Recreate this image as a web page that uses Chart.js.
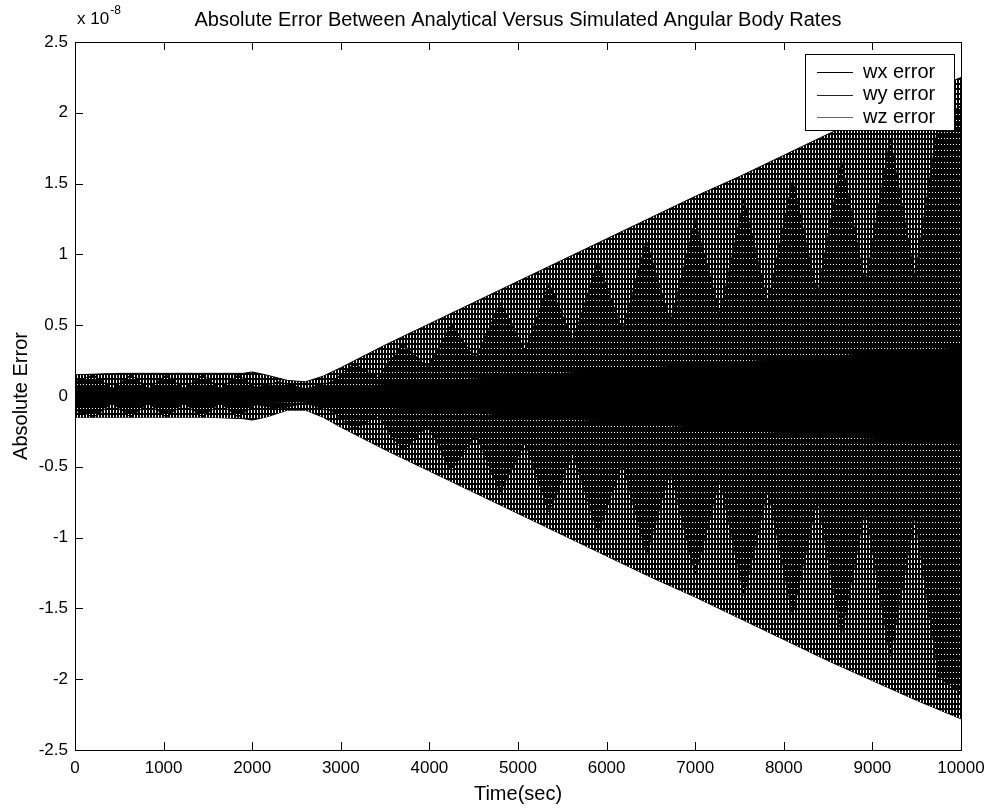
<!DOCTYPE html>
<html>
<head>
<meta charset="utf-8">
<title>Absolute Error Between Analytical Versus Simulated Angular Body Rates</title>
<script src="https://cdn.jsdelivr.net/npm/chart.js@4.4.1/dist/chart.umd.min.js"></script>
<style>
  html, body { margin: 0; padding: 0; background: #fff; }
  #wrap { width: 994px; height: 808px; }
</style>
</head>
<body>
<div id="wrap"><canvas id="chart" width="994" height="808"></canvas></div>
<script>
// Envelopes of the three error traces (units of 1e-8).
// The traces oscillate far too fast to resolve, so each one is drawn as the
// band between its upper and lower envelope.
var wxTime  = [0, 500, 1000, 1500, 1900, 2000, 2150, 2400, 2600, 2800, 3000, 3500, 4000, 4500, 5000, 5500, 6000, 6500, 7000, 7500, 8000, 8500, 9000, 9500, 10000];
var wxUpper = [0.15, 0.16, 0.16, 0.16, 0.16, 0.17, 0.15, 0.11, 0.10, 0.14, 0.20, 0.36, 0.51, 0.66, 0.81, 0.96, 1.11, 1.26, 1.41, 1.55, 1.70, 1.85, 1.99, 2.12, 2.25];
var wxLower = [-0.15, -0.15, -0.15, -0.15, -0.16, -0.17, -0.15, -0.10, -0.10, -0.15, -0.22, -0.38, -0.53, -0.68, -0.83, -0.98, -1.13, -1.28, -1.42, -1.57, -1.72, -1.87, -2.01, -2.15, -2.28];

var wyTime  = [0, 210, 420, 630, 830, 1030, 1230, 1440, 1640, 1840, 2040, 2300, 2600, 2900, 3150, 3420, 3700, 3980, 4250, 4520, 4800, 5080, 5350, 5620, 5900, 6180, 6450, 6720, 7000, 7280, 7550, 7820, 8100, 8380, 8650, 8920, 9200, 9480, 9750, 10000];
var wyUpper = [0.10, 0.15, 0.05, 0.15, 0.05, 0.15, 0.05, 0.15, 0.05, 0.15, 0.06, 0.10, 0.05, 0.10, 0.23, 0.13, 0.37, 0.20, 0.51, 0.26, 0.66, 0.32, 0.80, 0.39, 0.95, 0.46, 1.10, 0.52, 1.24, 0.58, 1.39, 0.65, 1.53, 0.71, 1.67, 0.78, 1.82, 0.84, 1.96, 2.05];
var wyLower = [-0.10, -0.15, -0.05, -0.15, -0.05, -0.15, -0.05, -0.15, -0.05, -0.15, -0.06, -0.09, -0.05, -0.11, -0.24, -0.14, -0.39, -0.21, -0.53, -0.27, -0.68, -0.33, -0.82, -0.40, -0.97, -0.47, -1.12, -0.53, -1.26, -0.59, -1.41, -0.66, -1.55, -0.72, -1.69, -0.79, -1.84, -0.85, -1.99, -2.10];

var wzTime  = [0, 2000, 2500, 3000, 4000, 5000, 6000, 7000, 8000, 9000, 10000];
var wzUpper = [0.05, 0.05, 0.04, 0.06, 0.10, 0.14, 0.18, 0.22, 0.26, 0.30, 0.34];
var wzLower = [-0.05, -0.05, -0.04, -0.06, -0.10, -0.14, -0.18, -0.22, -0.26, -0.30, -0.34];

var seriesNames = ['wx error', 'wy error', 'wz error'];
var seriesColors = ['#000000', '#222222', '#666666'];
var xTicks = [0, 1000, 2000, 3000, 4000, 5000, 6000, 7000, 8000, 9000, 10000];
var yTicks = [-2.5, -2, -1.5, -1, -0.5, 0, 0.5, 1, 1.5, 2, 2.5];

var FONT = '"Liberation Sans", Arial, Helvetica, sans-serif';
Chart.defaults.font.family = FONT;
Chart.defaults.color = '#000';

function pts(t, v) {
  return t.map(function (x, i) { return { x: x, y: v[i] }; });
}

// vertical hatching that stands in for the unresolved oscillation
function hatch(w, h, gaps) {
  var c = document.createElement('canvas');
  c.width = w; c.height = h;
  var g = c.getContext('2d');
  g.fillStyle = '#000';
  g.fillRect(0, 0, w, h);
  g.fillStyle = '#fff';
  gaps.forEach(function (r) { g.fillRect(r[0], r[1], r[2], r[3]); });
  return g.createPattern(c, 'repeat');
}
var sparse = hatch(3, 5, [[2, 0, 1, 3]]);
var dense = hatch(3, 6, [[2, 0, 1, 1]]);

function band(up, lo, idx, fillStyle) {
  return [
    { data: up, fill: idx + 1, backgroundColor: fillStyle, borderColor: '#000', borderWidth: 1, pointRadius: 0 },
    { data: lo, fill: false, borderColor: '#000', borderWidth: 1, pointRadius: 0 }
  ];
}

// last dataset is painted first, so wz band sits on top of wy which sits on wx
var datasets = []
  .concat(band(pts(wzTime, wzUpper), pts(wzTime, wzLower), 0, '#000'))
  .concat(band(pts(wyTime, wyUpper), pts(wyTime, wyLower), 2, dense))
  .concat(band(pts(wxTime, wxUpper), pts(wxTime, wxLower), 4, sparse));

var decor = {
  id: 'decor',
  afterDatasetsDraw: function (chart) {
    var ctx = chart.ctx, a = chart.chartArea;
    var xs = chart.scales.x, ys = chart.scales.y;
    ctx.save();
    ctx.strokeStyle = '#000';
    ctx.lineWidth = 1;
    ctx.beginPath();
    xTicks.forEach(function (v) {
      var px = Math.round(xs.getPixelForValue(v)) + 0.5;
      ctx.moveTo(px, a.bottom); ctx.lineTo(px, a.bottom - 8);
      ctx.moveTo(px, a.top); ctx.lineTo(px, a.top + 8);
    });
    yTicks.forEach(function (v) {
      var py = Math.round(ys.getPixelForValue(v)) + 0.5;
      ctx.moveTo(a.left, py); ctx.lineTo(a.left + 8, py);
      ctx.moveTo(a.right, py); ctx.lineTo(a.right - 8, py);
    });
    ctx.stroke();
    ctx.strokeRect(Math.round(a.left) + 0.5, Math.round(a.top) + 0.5,
                   Math.round(a.right - a.left), Math.round(a.bottom - a.top));
    ctx.restore();
  },
  afterDraw: function (chart) {
    var ctx = chart.ctx, a = chart.chartArea;
    ctx.save();
    ctx.fillStyle = '#000';

    // title
    ctx.font = '20px ' + FONT;
    ctx.textAlign = 'center';
    ctx.textBaseline = 'alphabetic';
    ctx.fillText('Absolute Error Between Analytical Versus Simulated Angular Body Rates', (a.left + a.right) / 2, 26);

    // axis titles
    ctx.textBaseline = 'middle';
    ctx.fillText('Time(sec)', (a.left + a.right) / 2, 794);
    ctx.save();
    ctx.translate(21, (a.top + a.bottom) / 2);
    ctx.rotate(-Math.PI / 2);
    ctx.fillText('Absolute Error', 0, 0);
    ctx.restore();

    // exponent label
    ctx.textAlign = 'left';
    ctx.textBaseline = 'alphabetic';
    ctx.font = '17px ' + FONT;
    ctx.fillText('x 10', 77, 24);
    var w = ctx.measureText('x 10').width;
    ctx.font = '12px ' + FONT;
    ctx.fillText('-8', 77 + w + 1, 14);

    // legend box
    var bx = 805, by = 54, bw = 149, bh = 76;
    ctx.fillStyle = '#fff';
    ctx.fillRect(bx, by, bw, bh);
    ctx.strokeStyle = '#000';
    ctx.lineWidth = 1;
    ctx.strokeRect(bx + 0.5, by + 0.5, bw, bh);
    ctx.font = '20px ' + FONT;
    ctx.textBaseline = 'middle';
    seriesNames.forEach(function (name, i) {
      var ry = by + 18 + i * 22.5;
      ctx.strokeStyle = seriesColors[i];
      ctx.beginPath();
      ctx.moveTo(817, Math.round(ry) + 0.5);
      ctx.lineTo(853, Math.round(ry) + 0.5);
      ctx.stroke();
      ctx.fillStyle = '#000';
      ctx.fillText(name, 863, ry);
    });
    ctx.restore();
  }
};

new Chart(document.getElementById('chart'), {
  type: 'line',
  data: { datasets: datasets },
  options: {
    responsive: false,
    animation: false,
    devicePixelRatio: 1,
    layout: { padding: { top: 42, right: 33, left: 0, bottom: 0 } },
    plugins: {
      legend: { display: false },
      title: { display: false },
      tooltip: { enabled: false },
      filler: { propagate: false }
    },
    scales: {
      x: {
        type: 'linear',
        min: 0,
        max: 10000,
        afterFit: function (s) { s.height = 58; },
        afterBuildTicks: function (s) { s.ticks = xTicks.map(function (v) { return { value: v }; }); },
        grid: { display: false, drawTicks: false },
        border: { display: false },
        ticks: {
          padding: 8,
          maxRotation: 0,
          font: { size: 17 },
          color: '#000',
          callback: function (v) { return String(v); }
        }
      },
      y: {
        type: 'linear',
        min: -2.5,
        max: 2.5,
        afterFit: function (s) { s.width = 75; },
        afterBuildTicks: function (s) { s.ticks = yTicks.map(function (v) { return { value: v }; }); },
        grid: { display: false, drawTicks: false },
        border: { display: false },
        ticks: {
          padding: 7,
          font: { size: 17 },
          color: '#000',
          callback: function (v) { return String(Math.round(v * 10) / 10); }
        }
      }
    }
  },
  plugins: [decor]
});
</script>
</body>
</html>
